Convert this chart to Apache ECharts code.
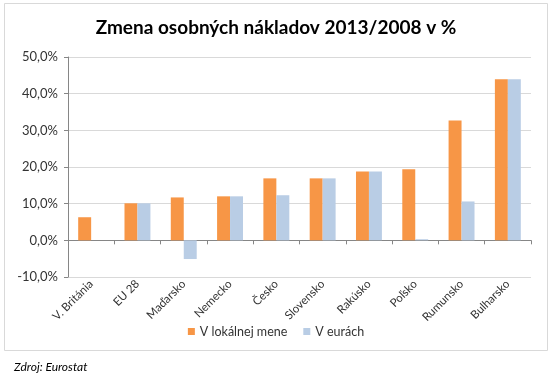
<!DOCTYPE html>
<html>
<head>
<meta charset="utf-8">
<script src="https://cdn.jsdelivr.net/npm/echarts@6/dist/echarts.min.js"></script>
<style>
html,body{margin:0;padding:0;background:#fff;}
#c{width:552px;height:376px;}
</style>
</head>
<body>
<div id="c"></div>
<script>
var categories = ["V. Británia","EU 28","Maďarsko","Nemecko","Česko","Slovensko","Rakúsko","Poľsko","Rumunsko","Bulharsko"];
var localCurrency = [6.3, 10.1, 11.7, 12.0, 16.9, 16.9, 18.8, 19.4, 32.7, 43.9];
var euros = [null, 10.1, -5.1, 12.0, 12.3, 16.9, 18.8, 0.3, 10.6, 43.9];
var seriesNames = ["V lokálnej mene","V eurách"];
var titleText = "Zmena osobných nákladov 2013/2008 v %";
var sourceText = "Zdroj: Eurostat";

var font = "Lato, 'Open Sans', sans-serif";
var chart = echarts.init(document.getElementById('c'), null, {renderer:'canvas'});
chart.setOption({
  animation:false,
  backgroundColor:'#fff',
  title:{text:titleText,left:'center',top:13,textStyle:{fontFamily:font,fontSize:19,fontWeight:'bold',color:'#000'}},
  grid:{left:68,right:21,top:57,bottom:99,containLabel:false},
  legend:{data:seriesNames,top:320,left:'center',itemWidth:7,itemHeight:7,itemGap:16,icon:'rect',
    textStyle:{fontFamily:font,fontSize:12.5,color:'#333'}},
  xAxis:{type:'category',data:categories,
    axisLine:{onZero:true,lineStyle:{color:'#868686'}},
    axisTick:{show:true,length:4,alignWithLabel:false,lineStyle:{color:'#868686'}},
    axisLabel:{rotate:45,interval:0,margin:5,fontFamily:font,fontSize:11.5,color:'#333'}},
  yAxis:{type:'value',min:-10,max:50,interval:10,
    axisLine:{show:true,lineStyle:{color:'#868686'}},
    axisTick:{show:true,length:4,lineStyle:{color:'#868686'}},
    splitLine:{lineStyle:{color:'#d9d9d9'}},
    axisLabel:{margin:10,fontFamily:font,fontSize:13,color:'#333',
      formatter:function(v){return v.toFixed(1).replace('.',',')+'%';}}},
  series:[
    {name:seriesNames[0],type:'bar',data:localCurrency,barGap:'0%',barCategoryGap:'44%',itemStyle:{color:'#F79646'}},
    {name:seriesNames[1],type:'bar',data:euros,itemStyle:{color:'#B9CDE5'}}
  ],
  graphic:[
    {type:'rect',shape:{x:4.5,y:3.5,width:543,height:347},style:{fill:null,stroke:'#d9d9d9',lineWidth:1},silent:true},
    {type:'text',left:14,top:361,style:{text:sourceText,font:"italic 12px "+font,fill:'#000'}}
  ]
});
</script>
</body>
</html>
